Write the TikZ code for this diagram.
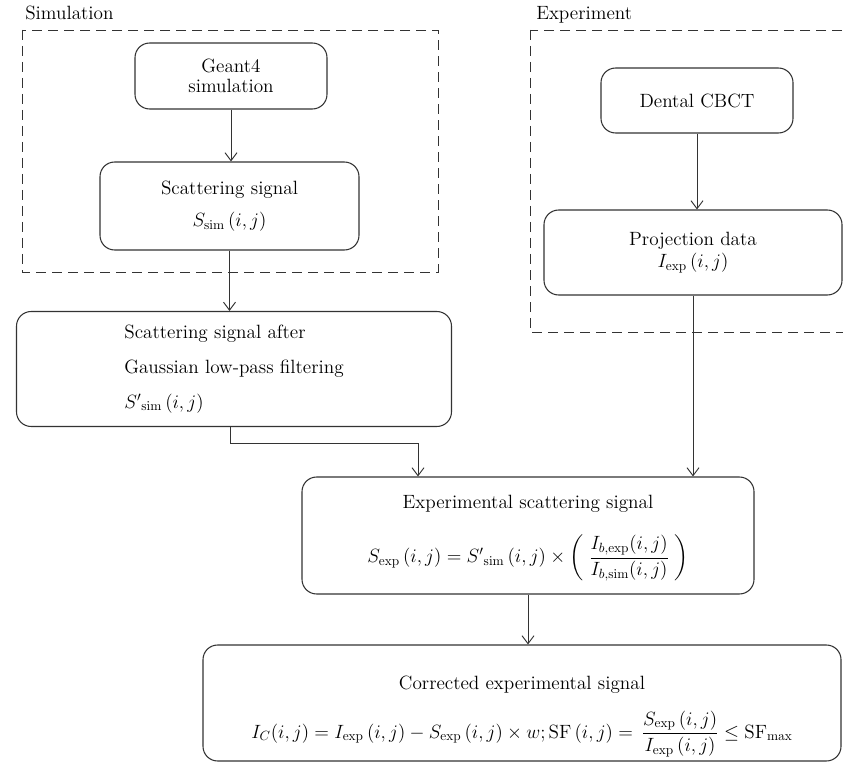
\documentclass[tikz,border=0pt]{standalone}
\usepackage{amsmath}
\usetikzlibrary{arrows.meta}
\definecolor{linegray}{HTML}{333333}
\begin{document}
\begin{tikzpicture}[x=0.75pt,y=-0.75pt,
  box/.style={draw=linegray, line width=0.8pt, rounded corners=11pt, inner sep=0pt,
    align=center, font=\fontsize{14.4}{20}\selectfont},
  tight/.style={font=\fontsize{14.4}{16.5}\selectfont},
  grp/.style={draw=linegray, line width=0.7pt, dash pattern=on 7.5pt off 4.5pt},
  arr/.style={draw=linegray, line width=0.7pt, -{Straight Barb[length=6pt,width=9pt]}},
  lab/.style={font=\fontsize{14.4}{20}\selectfont, anchor=base west, inner sep=0pt}]
\clip (0,0) rectangle (843,763);
\fill[white] (0,0) rectangle (843,763);

% group frames
\draw[grp] (22,30) rectangle (438,272);
\draw[grp] (530,30) rectangle (880,332);
\node[lab] (simlab) at (25,20) {Simulation};
\node[lab] (explab) at (536,20) {Experiment};

% boxes
\node[box, tight, minimum width=144pt, minimum height=49.5pt] (geant) at (231,76)
  {Geant4\\[-2pt]simulation};
\node[box, minimum width=194.25pt, minimum height=66pt] (scat) at (229.5,206)
  {Scattering signal\\[4pt] $S_{\mathrm{sim}}\,(i,j)$};
\node[box, minimum width=326.25pt, minimum height=86.25pt, align=left] (gauss) at (234,369)
  {Scattering signal after\\[6pt] Gaussian low-pass filtering\\[6pt] ${S'}_{\mathrm{sim}}\,(i,j)$};
\node[box, minimum width=144pt, minimum height=48.75pt] (dental) at (697,100.5)
  {Dental CBCT};
\node[box, tight, minimum width=223.5pt, minimum height=63.75pt] (proj) at (693,252.5)
  {Projection data\\ $I_{\mathrm{exp}}\,(i,j)$};
\node[box, minimum width=339pt, minimum height=87.75pt] (expss) at (528,535.5)
  {\rule{0pt}{14pt}Experimental scattering signal\\[16pt]
   $S_{\mathrm{exp}}\,(i,j) = {S'}_{\mathrm{sim}}\,(i,j) \times
   \left(\;\dfrac{I_{b,\mathrm{exp}}(i,j)}{I_{b,\mathrm{sim}}(i,j)}\;\right)$};
\node[box, minimum width=478.5pt, minimum height=87pt] (corr) at (522,703)
  {\rule{0pt}{30pt}Corrected experimental signal\\[12pt]
   $I_C(i,j) = I_{\mathrm{exp}}\,(i,j) - S_{\mathrm{exp}}\,(i,j)\times w;\mathrm{SF}\,(i,j) =
   \,\dfrac{S_{\mathrm{exp}}\,(i,j)}{I_{\mathrm{exp}}\,(i,j)} \le \mathrm{SF}_{\max}$};

% connectors
\draw[arr] (geant.south) -- (geant.south |- scat.north);
\draw[arr] (scat.south) -- (scat.south |- gauss.north);
\draw[arr] (dental.south) -- (dental.south |- proj.north);
\draw[arr] (proj.south) -- (proj.south |- expss.north);
\coordinate (bend) at (418,443);
\draw[arr] (gauss.south -| 230,0) |- (bend) -- (bend |- expss.north);
\draw[arr] (expss.south) -- (expss.south |- corr.north);
\end{tikzpicture}
\end{document}
